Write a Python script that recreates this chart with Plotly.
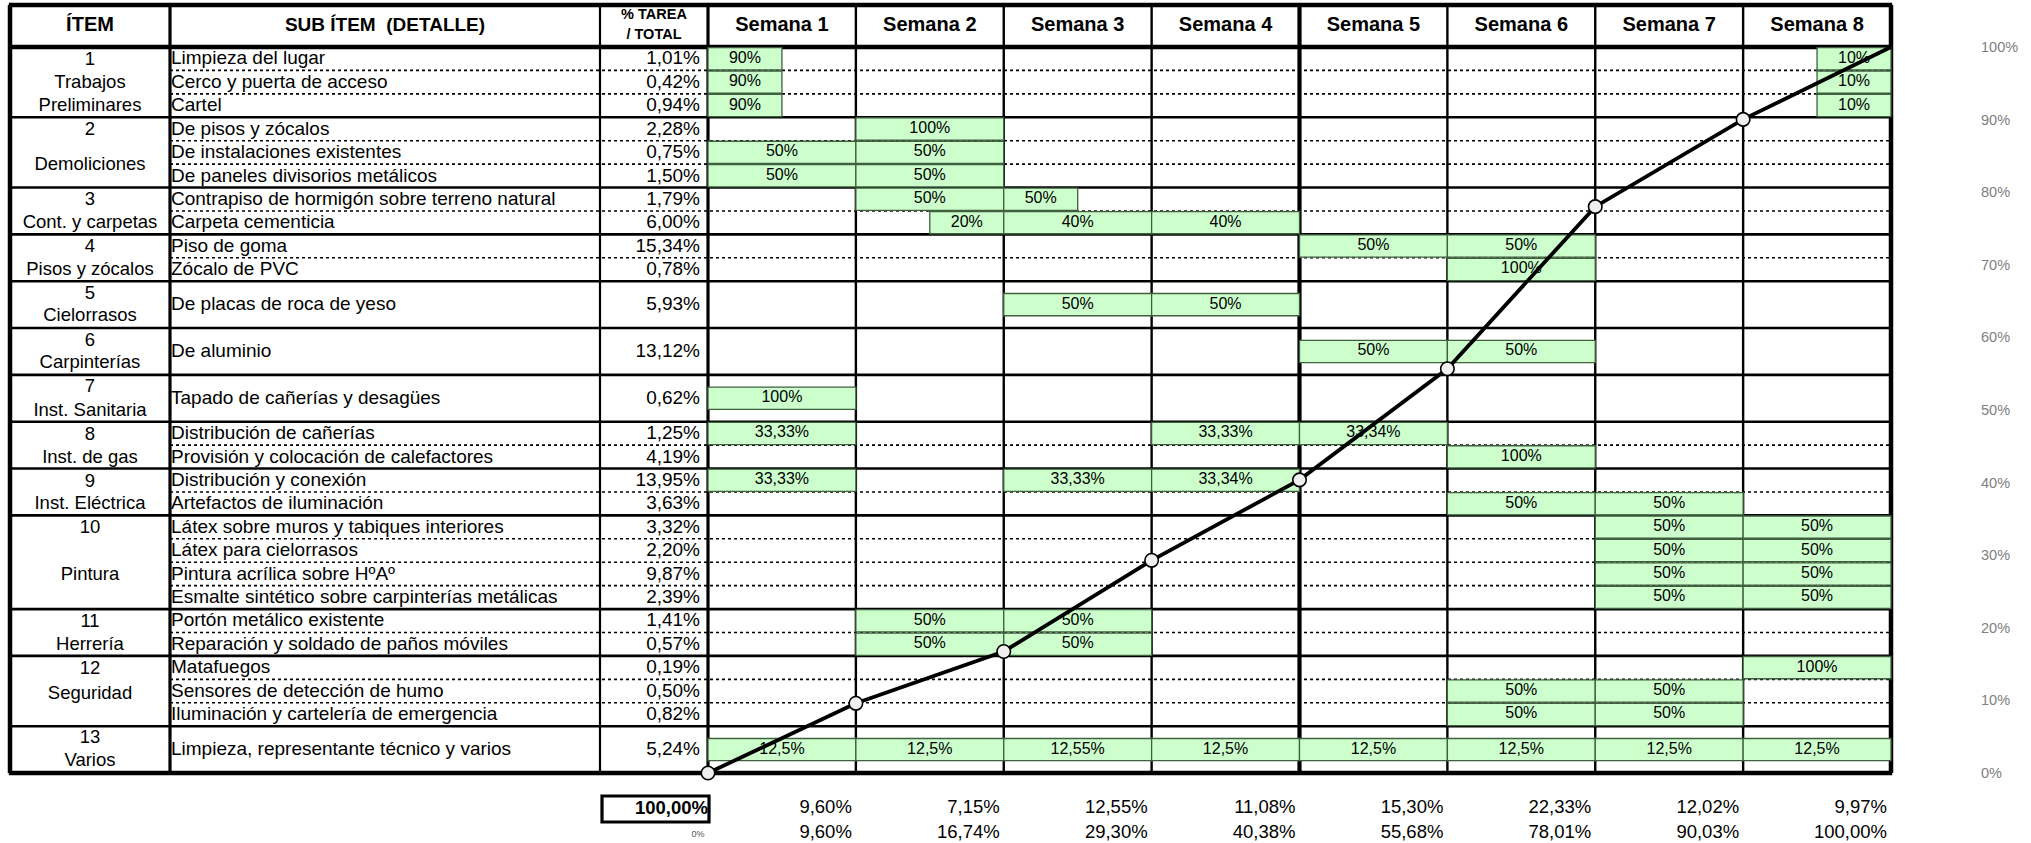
import plotly.graph_objects as go

# ---------------- DATA ----------------
group_numbers = ["1", "2", "3", "4", "5", "6", "7", "8", "9", "10", "11", "12", "13"]
group_names = ["Trabajos<br>Preliminares", "Demoliciones", "Cont. y carpetas", "Pisos y zócalos",
               "Cielorrasos", "Carpinterías", "Inst. Sanitaria", "Inst. de gas",
               "Inst. Eléctrica", "Pintura", "Herrería", "Seguridad", "Varios"]
group_sizes = [3, 3, 2, 2, 1, 1, 1, 2, 2, 4, 2, 3, 1]

sub_items = [
    "Limpieza del lugar", "Cerco y puerta de acceso", "Cartel",
    "De pisos y zócalos", "De instalaciones existentes", "De paneles divisorios metálicos",
    "Contrapiso de hormigón sobre terreno natural", "Carpeta cementicia",
    "Piso de goma", "Zócalo de PVC",
    "De placas de roca de yeso",
    "De aluminio",
    "Tapado de cañerías y desagües",
    "Distribución de cañerías", "Provisión y colocación de calefactores",
    "Distribución y conexión", "Artefactos de iluminación",
    "Látex sobre muros y tabiques interiores", "Látex para cielorrasos",
    "Pintura acrílica sobre HºAº", "Esmalte sintético sobre carpinterías metálicas",
    "Portón metálico existente", "Reparación y soldado de paños móviles",
    "Matafuegos", "Sensores de detección de humo", "Iluminación y cartelería de emergencia",
    "Limpieza, representante técnico y varios",
]
task_share = [1.01, 0.42, 0.94, 2.28, 0.75, 1.50, 1.79, 6.00, 15.34, 0.78, 5.93, 13.12, 0.62,
              1.25, 4.19, 13.95, 3.63, 3.32, 2.20, 9.87, 2.39, 1.41, 0.57, 0.19, 0.50, 0.82, 5.24]

weeks = ["Semana 1", "Semana 2", "Semana 3", "Semana 4",
         "Semana 5", "Semana 6", "Semana 7", "Semana 8"]

# Gantt bars: sub-item index, start week, end week, % of the task done in that slot
bar_task = [0, 0, 1, 1, 2, 2, 3, 4, 4, 5, 5, 6, 6, 7, 7, 7, 8, 8, 9, 10, 10, 11, 11, 12,
            13, 13, 13, 14, 15, 15, 15, 16, 16, 17, 17, 18, 18, 19, 19, 20, 20,
            21, 21, 22, 22, 23, 24, 24, 25, 25, 26, 26, 26, 26, 26, 26, 26, 26]
bar_start = [0, 7.5, 0, 7.5, 0, 7.5, 1, 0, 1, 0, 1, 1, 2, 1.5, 2, 3, 4, 5, 5, 2, 3, 4, 5, 0,
             0, 3, 4, 5, 0, 2, 3, 5, 6, 6, 7, 6, 7, 6, 7, 6, 7,
             1, 2, 1, 2, 7, 5, 6, 5, 6, 0, 1, 2, 3, 4, 5, 6, 7]
bar_end = [0.5, 8, 0.5, 8, 0.5, 8, 2, 1, 2, 1, 2, 2, 2.5, 2, 3, 4, 5, 6, 6, 3, 4, 5, 6, 1,
           1, 4, 5, 6, 1, 3, 4, 6, 7, 7, 8, 7, 8, 7, 8, 7, 8,
           2, 3, 2, 3, 8, 6, 7, 6, 7, 1, 2, 3, 4, 5, 6, 7, 8]
bar_pct = [90, 10, 90, 10, 90, 10, 100, 50, 50, 50, 50, 50, 50, 20, 40, 40, 50, 50, 100, 50, 50,
           50, 50, 100, 33.33, 33.33, 33.34, 100, 33.33, 33.33, 33.34, 50, 50, 50, 50, 50, 50,
           50, 50, 50, 50, 50, 50, 50, 50, 100, 50, 50, 50, 50,
           12.5, 12.5, 12.55, 12.5, 12.5, 12.5, 12.5, 12.5]

week_share = [9.60, 7.15, 12.55, 11.08, 15.30, 22.33, 12.02, 9.97]
cumulative = [0, 9.60, 16.74, 29.30, 40.38, 55.68, 78.01, 90.03, 100.00]
total_share = 100.00
axis_pct = [0, 10, 20, 30, 40, 50, 60, 70, 80, 90, 100]

# ---------------- LAYOUT (page pixels) ----------------
W, H = 2031, 843
X_LEFT, X_ITEM, X_SUB, X_PCT, X_RIGHT = 10, 170, 600, 708, 1891
WEEK_PX = (X_RIGHT - X_PCT) / 8
Y_TOP, Y_HEAD, ROW_H = 5, 47, 23.42
N_ROWS = 31
Y_BOT = Y_HEAD + N_ROWS * ROW_H
PCT_PX = (Y_BOT - Y_HEAD) / 100

# row spans of each sub item (double rows for some)
sub_span = [1, 1, 1, 1, 1, 1, 1, 1, 1, 1, 2, 2, 2, 1, 1, 1, 1, 1, 1, 1, 1, 1, 1, 1, 1, 1, 2]
# vertical position of each group label inside its block (row offset from block start)
name_offset = [1.55, 2.05, 1.55, 1.55, 1.5, 1.5, 1.55, 1.55, 1.55, 2.55, 1.55, 1.65, 1.52]
num_offset = [0.57, 0.57, 0.57, 0.57, 0.55, 0.55, 0.55, 0.57, 0.57, 0.57, 0.57, 0.57, 0.52]


def ux(px):
    return (px - X_PCT) / WEEK_PX


def ry(py):
    return (py - Y_HEAD) / ROW_H


FONT = "Liberation Sans, Arial, sans-serif"

sub_row0 = []
r = 0
for s in sub_span:
    sub_row0.append(r)
    r += s
sub_center = [r0 + s / 2 for r0, s in zip(sub_row0, sub_span)]

group_row0 = []
i = 0
for gs in group_sizes:
    group_row0.append(sub_row0[i])
    i += gs


def fmt(v, dec=2):
    return f"{v:.{dec}f}".replace(".", ",") + "%"


def fmtg(v):
    return f"{v:g}".replace(".", ",") + "%"


fig = go.Figure()

# Gantt bars
bar_y = [sub_center[t] for t in bar_task]
fig.add_trace(go.Bar(
    y=bar_y, x=[e - s for s, e in zip(bar_start, bar_end)], base=bar_start,
    orientation="h", width=0.95,
    marker=dict(color="#CCFFCC", line=dict(color="#3f5f3f", width=1.3)),
    hoverinfo="skip", showlegend=False,
))
fig.add_trace(go.Scatter(
    x=[(s + e) / 2 for s, e in zip(bar_start, bar_end)], y=bar_y,
    mode="text", text=[fmtg(p) for p in bar_pct],
    textposition="middle center",
    textfont=dict(family=FONT, size=16, color="#000"),
    hoverinfo="skip", showlegend=False,
))

# Header texts
hy = ry((Y_TOP + Y_HEAD) / 2)
fig.add_trace(go.Scatter(
    x=[ux((X_LEFT + X_ITEM) / 2)] + [k + 0.5 for k in range(8)],
    y=[hy] * 9, mode="text",
    text=["ÍTEM"] + weeks,
    textposition="middle center",
    textfont=dict(family=FONT, size=20, color="#000", weight="bold"),
    hoverinfo="skip", showlegend=False,
))
fig.add_trace(go.Scatter(
    x=[ux((X_ITEM + X_SUB) / 2)], y=[hy], mode="text",
    text=["SUB ÍTEM \u00a0(DETALLE)"], textposition="middle center",
    textfont=dict(family=FONT, size=19, color="#000", weight="bold"),
    hoverinfo="skip", showlegend=False,
))
fig.add_trace(go.Scatter(
    x=[ux((X_SUB + X_PCT) / 2)] * 2, y=[ry(15.5), ry(35.5)], mode="text",
    text=["% TAREA", "/ TOTAL"], textposition="middle center",
    textfont=dict(family=FONT, size=14.5, color="#000", weight="bold"),
    hoverinfo="skip", showlegend=False,
))

# Item column
fig.add_trace(go.Scatter(
    x=[ux((X_LEFT + X_ITEM) / 2)] * len(group_numbers),
    y=[g0 + o for g0, o in zip(group_row0, num_offset)],
    mode="text", text=group_numbers, textposition="middle center",
    textfont=dict(family=FONT, size=18.5, color="#000"),
    hoverinfo="skip", showlegend=False,
))
name_x, name_y, name_t = [], [], []
for g0, o, nm in zip(group_row0, name_offset, group_names):
    for j, p in enumerate(nm.split("<br>")):
        name_x.append(ux((X_LEFT + X_ITEM) / 2))
        name_y.append(g0 + o + j)
        name_t.append(p)
fig.add_trace(go.Scatter(
    x=name_x, y=name_y, mode="text", text=name_t, textposition="middle center",
    textfont=dict(family=FONT, size=18.5, color="#000"),
    hoverinfo="skip", showlegend=False,
))

# Sub items
fig.add_trace(go.Scatter(
    x=[ux(X_ITEM + 1)] * len(sub_items), y=[c + 0.04 for c in sub_center], mode="text",
    text=sub_items, textposition="middle right",
    textfont=dict(family=FONT, size=19, color="#000"),
    hoverinfo="skip", showlegend=False,
))
# Task share
fig.add_trace(go.Scatter(
    x=[ux(X_PCT - 8)] * len(task_share), y=[c + 0.04 for c in sub_center], mode="text",
    text=[fmt(v) for v in task_share], textposition="middle left",
    textfont=dict(family=FONT, size=19, color="#000"),
    hoverinfo="skip", showlegend=False,
))

# Summary rows
fig.add_trace(go.Scatter(
    x=[k + 1 - 4 / WEEK_PX for k in range(8)] * 2,
    y=[ry(808)] * 8 + [ry(833)] * 8, mode="text",
    text=[fmt(v) for v in week_share] + [fmt(v) for v in cumulative[1:]],
    textposition="middle left",
    textfont=dict(family=FONT, size=18.5, color="#000"),
    hoverinfo="skip", showlegend=False,
))
fig.add_trace(go.Scatter(
    x=[ux(708)], y=[ry(809)], mode="text", text=[fmt(total_share)],
    textposition="middle left",
    textfont=dict(family=FONT, size=18.5, color="#000", weight="bold"),
    hoverinfo="skip", showlegend=False,
))
fig.add_trace(go.Scatter(
    x=[ux(698)], y=[ry(835)], mode="text", text=[fmt(cumulative[0], 0)],
    textposition="middle center",
    textfont=dict(family=FONT, size=9, color="#555"),
    hoverinfo="skip", showlegend=False,
))

# S-curve
fig.add_trace(go.Scatter(
    x=list(range(9)), y=cumulative, yaxis="y2", mode="lines",
    line=dict(color="#000", width=3.8), hoverinfo="skip", showlegend=False,
))
fig.add_trace(go.Scatter(
    x=list(range(8)), y=cumulative[:8], yaxis="y2", mode="markers",
    marker=dict(symbol="circle", size=13.5, color="#efefef", line=dict(color="#000", width=1.6)),
    hoverinfo="skip", showlegend=False,
))

# ---------------- table lines ----------------
shapes = []


def hline(y, x0, x1, w, dash="solid"):
    shapes.append(dict(type="line", xref="x", yref="y", x0=x0, x1=x1, y0=y, y1=y,
                       line=dict(color="#000", width=w, dash=dash), layer="below"))


def vline(x, y0, y1, w):
    shapes.append(dict(type="line", xref="x", yref="y", x0=x, x1=x, y0=y0, y1=y1,
                       line=dict(color="#000", width=w), layer="below"))


xl, xr = ux(X_LEFT), ux(X_RIGHT)
group_starts = set(group_row0)
for r0 in sub_row0:
    if r0 not in group_starts:
        hline(r0, ux(X_ITEM), xr, 1.6, "dot")
for g in group_row0[1:]:
    hline(g, xl, xr, 2.6)
hline(ry(Y_TOP), xl - 0.008, xr + 0.008, 4.5)
hline(0, xl, xr, 4.5)
hline(N_ROWS, xl - 0.008, xr + 0.008, 4.5)

ytop = ry(Y_TOP)
vline(xl, ytop, N_ROWS, 4.5)
vline(ux(X_ITEM), ytop, N_ROWS, 3.2)
vline(ux(X_SUB), ytop, N_ROWS, 2.2)
vline(0, ytop, N_ROWS, 3.2)
for k in range(1, 8):
    vline(k, ytop, N_ROWS, 4.2 if k == 4 else 2.4)
vline(8, ytop, N_ROWS, 4.5)

# total box
shapes.append(dict(type="rect", xref="x", yref="y", x0=ux(602), x1=ux(709), y0=ry(796), y1=ry(822),
                   line=dict(color="#000", width=3.2), fillcolor="rgba(0,0,0,0)", layer="below"))

fig.update_layout(
    width=W, height=H, margin=dict(l=0, r=0, t=0, b=0),
    paper_bgcolor="white", plot_bgcolor="white",
    showlegend=False, shapes=shapes,
    barmode="overlay",
    xaxis=dict(range=[ux(0), ux(W)], visible=False, fixedrange=True),
    yaxis=dict(range=[ry(H), ry(0)], visible=False, fixedrange=True),
    yaxis2=dict(range=[(Y_BOT - H) / PCT_PX, Y_BOT / PCT_PX],
                overlaying="y", side="right", anchor="free",
                position=1980 / W,
                tickvals=axis_pct, ticktext=[f"{v}%" for v in axis_pct],
                showgrid=False, zeroline=False, showline=False, ticks="",
                tickfont=dict(family=FONT, size=14.5, color="#808080"), fixedrange=True),
)

# the page body gets no margin so that the figure fills the window exactly
fig.write_html(
    "out.html",
    config={"displayModeBar": False, "staticPlot": True},
    post_script="document.body.style.margin='0';document.body.style.overflow='hidden';",
)
